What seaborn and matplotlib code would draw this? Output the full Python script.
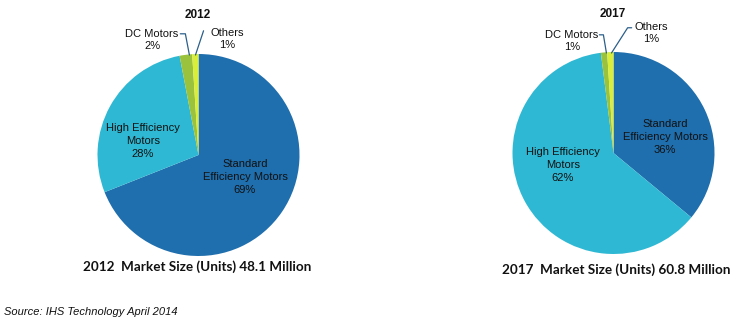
import matplotlib
matplotlib.use("Agg")
import matplotlib.pyplot as plt
import seaborn as sns

sns.set_theme(style="white")
plt.rcParams["font.family"] = ["Liberation Sans", "DejaVu Sans"]

# Motor market share by type
segments = ["Standard\nEfficiency Motors", "High Efficiency\nMotors", "DC Motors", "Others"]
share_2012 = [69, 28, 2, 1]
share_2017 = [36, 62, 1, 1]
years = ["2012", "2017"]
market_size = ["48.1", "60.8"]
source_note = "Source: IHS Technology April 2014"

colors = sns.color_palette(["#1F6EAD", "#2FB8D3", "#9BC23C", "#D8EE3A"])

W, H = 751, 326
fig = plt.figure(figsize=(W / 100, H / 100), dpi=100)
fig.patch.set_facecolor("white")


def pie_axes(cx, cy, r):
    return fig.add_axes([(cx - r) / W, (H - cy - r) / H, 2 * r / W, 2 * r / H])


def draw_pie(ax, values, inner_pos, small_text, small_lines):
    ax.pie(values, colors=colors, startangle=90, counterclock=False,
           wedgeprops=dict(linewidth=0))
    ax.set_xlim(-1, 1)
    ax.set_ylim(-1, 1)
    ax.set_aspect("equal")
    ax.axis("off")
    # big segments labelled inside
    for name, val, (x, y) in zip(segments[:2], values[:2], inner_pos):
        ax.text(x, y, f"{name}\n{val}%", ha="center", va="center",
                fontsize=8, color="#111111", linespacing=1.4)
    # small segments labelled outside with leader lines
    for name, val, (tx, ty), pts in zip(segments[2:], values[2:], small_text, small_lines):
        ax.text(tx, ty, f"{name}\n{val}%", ha="center", va="center",
                fontsize=8, color="#111111", linespacing=1.25, clip_on=False)
        xs, ys = zip(*pts)
        ax.plot(xs, ys, color="#2B5F8A", lw=0.9, clip_on=False)


# 2012
ax1 = pie_axes(198.5, 155, 101)
draw_pie(ax1, share_2012,
         inner_pos=[(0.46, -0.22), (-0.55, 0.14)],
         small_text=[(-0.46, 1.14), (0.28, 1.15)],
         small_lines=[[(-0.18, 1.2), (-0.13, 1.2), (-0.09, 0.99)],
                      [(0.05, 1.23), (-0.03, 0.99)]])

# 2017
ax2 = pie_axes(613.5, 153, 101)
draw_pie(ax2, share_2017,
         inner_pos=[(0.51, 0.16), (-0.5, -0.12)],
         small_text=[(-0.41, 1.11), (0.37, 1.19)],
         small_lines=[[(-0.14, 1.17), (-0.1, 1.17), (-0.07, 0.99)],
                      [(0.18, 1.24), (0.14, 1.24), (-0.02, 0.99)]])

# year titles
fig.text(198 / W, 1 - 15 / H, years[0], ha="center", va="center",
         fontsize=8.5, fontweight="bold", color="#111111")
fig.text(613 / W, 1 - 14 / H, years[1], ha="center", va="center",
         fontsize=8.5, fontweight="bold", color="#111111")

# market size captions
fig.text(197 / W, 1 - 267 / H, f"{years[0]}  Market Size (Units) {market_size[0]} Million",
         ha="center", va="center", fontsize=9.7, fontweight="bold",
         family=["Lato", "DejaVu Sans"], color="#111111")
fig.text(616 / W, 1 - 270 / H, f"{years[1]}  Market Size (Units) {market_size[1]} Million",
         ha="center", va="center", fontsize=9.7, fontweight="bold",
         family=["Lato", "DejaVu Sans"], color="#111111")

fig.text(4 / W, 1 - 312 / H, source_note, ha="left", va="center",
         fontsize=8, style="italic", color="#111111")

fig.savefig("out.png", dpi=100, facecolor="white")
